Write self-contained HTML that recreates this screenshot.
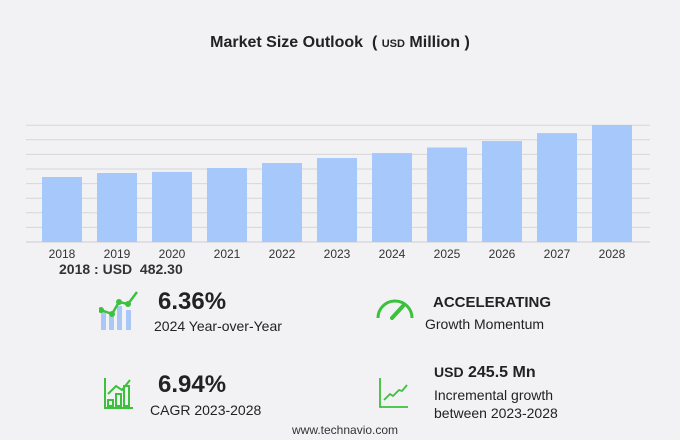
<!DOCTYPE html>
<html><head><meta charset="utf-8"><style>
body{margin:0;width:680px;height:440px;background:#f2f2f4;font-family:"Liberation Sans",sans-serif;position:relative;overflow:hidden;color:#222}
.t{position:absolute;white-space:nowrap}
</style></head><body>
<div class="t" style="left:0;width:680px;top:34px;text-align:center;font-size:16px;font-weight:bold;color:#222">Market Size Outlook &nbsp;( <span style="font-size:11px">USD</span> Million )</div>
<svg id="chart" width="680" height="280" style="position:absolute;left:0;top:0"></svg>
<div class="t" style="left:59px;top:261px;font-size:14px;font-weight:bold;color:#333">2018 : USD&nbsp; 482.30</div>

<svg width="44" height="40" style="position:absolute;left:99px;top:290px">
<rect x="2" y="22" width="5" height="18" fill="#a9c8f7"/><rect x="10" y="26" width="5" height="14" fill="#a9c8f7"/><rect x="18" y="16" width="5" height="24" fill="#a9c8f7"/><rect x="27" y="20" width="5" height="20" fill="#a9c8f7"/>
<polyline points="2,20 13,24 20,12 29,14 38,2" fill="none" stroke="#3cc13c" stroke-width="2.5"/>
<circle cx="2" cy="20" r="3" fill="#3cc13c"/><circle cx="13" cy="24" r="3" fill="#3cc13c"/><circle cx="20" cy="12" r="3" fill="#3cc13c"/><circle cx="29" cy="14" r="3" fill="#3cc13c"/></svg>
<div class="t" style="left:158px;top:288px;font-size:24px;font-weight:bold">6.36%</div>
<div class="t" style="left:154px;top:318px;font-size:14px">2024 Year-over-Year</div>

<svg width="40" height="26" style="position:absolute;left:375px;top:296px">
<path d="M3,22 A17,17 0 0 1 37,22" fill="none" stroke="#3cc13c" stroke-width="3"/>
<line x1="17" y1="22" x2="28" y2="10" stroke="#3cc13c" stroke-width="4" stroke-linecap="round"/></svg>
<div class="t" style="left:433px;top:294px;font-size:15px;font-weight:bold">ACCELERATING</div>
<div class="t" style="left:425px;top:316px;font-size:14px">Growth Momentum</div>

<svg width="30" height="32" style="position:absolute;left:104px;top:378px">
<g fill="none" stroke="#3cc13c" stroke-width="2"><polyline points="1,0 1,30 29,30"/><rect x="4" y="22" width="5" height="6"/><rect x="12" y="16" width="5" height="12"/><rect x="20" y="8" width="5" height="20"/><polyline points="4,16 12,8 18,12 26,2"/></g></svg>
<div class="t" style="left:158px;top:371px;font-size:24px;font-weight:bold">6.94%</div>
<div class="t" style="left:150px;top:402px;font-size:14px">CAGR 2023-2028</div>

<svg width="30" height="30" style="position:absolute;left:379px;top:378px">
<g fill="none" stroke="#3cc13c" stroke-width="1.8"><polyline points="1,0 1,29 29,29"/><polyline points="5,22 11,16 14,18 20,12 23,13 28,7"/></g></svg>
<div class="t" style="left:434px;top:364px;font-size:16px;font-weight:bold"><span style="font-size:14px">USD</span> 245.5 Mn</div>
<div class="t" style="left:434px;top:386px;font-size:14px;line-height:18px">Incremental growth<br>between 2023-2028</div>
<div class="t" style="left:292px;top:423px;font-size:12px;color:#333">www.technavio.com</div>

<script>
const years=["2018","2019","2020","2021","2022","2023","2024","2025","2026","2027","2028"];
const values=[482.3,512,520,549,586,623,660,701,749,808,868];
const svg=document.getElementById('chart');
const NS='http://www.w3.org/2000/svg';
const base=242,scale=65/482.3;
const y=v=>base-v*scale;
const x=i=>42+i*55;
for(let g=0;g<9;g++){const l=document.createElementNS(NS,'line');


const yy=base-g*14.6;l.setAttribute('x1',26);l.setAttribute('x2',650);l.setAttribute('y1',yy);l.setAttribute('y2',yy);
l.setAttribute('stroke',g==0?'#cfcfd3':'#d6d6da');l.setAttribute('stroke-width',1);svg.appendChild(l);}
years.forEach((yr,i)=>{const r=document.createElementNS(NS,'rect');


r.setAttribute('x',x(i));r.setAttribute('width',40);r.setAttribute('y',y(values[i]));r.setAttribute('height',base-y(values[i]));r.setAttribute('fill','#a6c8fb');svg.appendChild(r);
const t=document.createElementNS(NS,'text');


t.setAttribute('x',x(i)+20);t.setAttribute('y',258);t.setAttribute('text-anchor','middle');t.setAttribute('font-size','12');t.setAttribute('fill','#333');t.setAttribute('font-family','Liberation Sans, sans-serif');t.textContent=yr;svg.appendChild(t);});
</script>
</body></html>
